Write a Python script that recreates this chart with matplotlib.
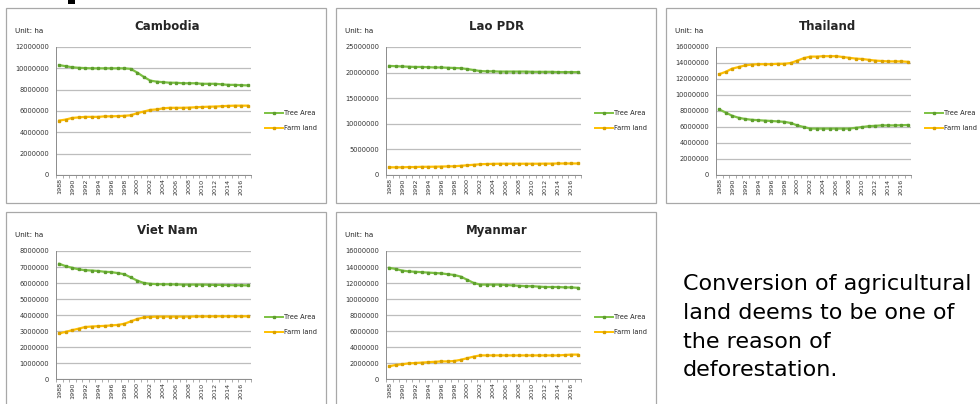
import matplotlib
matplotlib.use("Agg")
import matplotlib.pyplot as plt
from matplotlib.lines import Line2D
from matplotlib.patches import Rectangle
import numpy as np

plt.rcParams['font.family'] = ['DejaVu Sans']

years = list(range(1988, 2018))
year_labels = [str(y) if (y - 1988) % 2 == 0 else "" for y in years]
series_names = ["Tree Area", "Farm land"]

# hectares, 1988-2017
cambodia_tree = [10.30e6, 10.20e6, 10.10e6, 10.05e6, 10.02e6, 10.00e6, 10.00e6, 10.00e6, 10.00e6, 10.00e6,
                 10.00e6, 9.95e6, 9.60e6, 9.20e6, 8.85e6, 8.75e6, 8.70e6, 8.65e6, 8.65e6, 8.60e6,
                 8.60e6, 8.60e6, 8.55e6, 8.55e6, 8.55e6, 8.50e6, 8.45e6, 8.45e6, 8.42e6, 8.40e6]
cambodia_farm = [5.10e6, 5.20e6, 5.35e6, 5.40e6, 5.45e6, 5.45e6, 5.45e6, 5.50e6, 5.50e6, 5.52e6,
                 5.55e6, 5.60e6, 5.80e6, 5.95e6, 6.10e6, 6.15e6, 6.25e6, 6.30e6, 6.30e6, 6.30e6,
                 6.32e6, 6.35e6, 6.38e6, 6.40e6, 6.42e6, 6.45e6, 6.48e6, 6.50e6, 6.50e6, 6.50e6]

lao_tree = [21.30e6, 21.25e6, 21.20e6, 21.15e6, 21.10e6, 21.10e6, 21.05e6, 21.00e6, 21.00e6, 20.95e6,
            20.90e6, 20.85e6, 20.70e6, 20.50e6, 20.30e6, 20.25e6, 20.25e6, 20.20e6, 20.20e6, 20.20e6,
            20.20e6, 20.20e6, 20.15e6, 20.15e6, 20.15e6, 20.15e6, 20.10e6, 20.10e6, 20.10e6, 20.10e6]
lao_farm = [1.50e6, 1.50e6, 1.50e6, 1.55e6, 1.55e6, 1.60e6, 1.60e6, 1.62e6, 1.65e6, 1.68e6,
            1.70e6, 1.80e6, 1.90e6, 2.00e6, 2.10e6, 2.15e6, 2.18e6, 2.20e6, 2.20e6, 2.20e6,
            2.20e6, 2.20e6, 2.20e6, 2.20e6, 2.22e6, 2.22e6, 2.25e6, 2.25e6, 2.25e6, 2.25e6]

thailand_tree = [8.20e6, 7.80e6, 7.40e6, 7.15e6, 7.00e6, 6.90e6, 6.85e6, 6.80e6, 6.75e6, 6.70e6,
                 6.65e6, 6.50e6, 6.20e6, 6.00e6, 5.80e6, 5.80e6, 5.80e6, 5.80e6, 5.80e6, 5.80e6,
                 5.80e6, 5.90e6, 6.00e6, 6.10e6, 6.15e6, 6.20e6, 6.20e6, 6.20e6, 6.22e6, 6.25e6]
thailand_farm = [12.60e6, 12.90e6, 13.30e6, 13.50e6, 13.70e6, 13.80e6, 13.85e6, 13.85e6, 13.85e6, 13.90e6,
                 13.90e6, 14.00e6, 14.30e6, 14.60e6, 14.80e6, 14.80e6, 14.85e6, 14.85e6, 14.85e6, 14.75e6,
                 14.65e6, 14.55e6, 14.50e6, 14.40e6, 14.30e6, 14.25e6, 14.20e6, 14.20e6, 14.20e6, 14.15e6]

vietnam_tree = [7.20e6, 7.05e6, 6.95e6, 6.85e6, 6.80e6, 6.78e6, 6.75e6, 6.70e6, 6.68e6, 6.62e6,
                6.55e6, 6.35e6, 6.15e6, 6.00e6, 5.95e6, 5.93e6, 5.92e6, 5.92e6, 5.91e6, 5.90e6,
                5.90e6, 5.90e6, 5.90e6, 5.89e6, 5.88e6, 5.88e6, 5.87e6, 5.86e6, 5.86e6, 5.85e6]
vietnam_farm = [2.85e6, 2.95e6, 3.05e6, 3.15e6, 3.25e6, 3.28e6, 3.30e6, 3.32e6, 3.35e6, 3.38e6,
                3.45e6, 3.60e6, 3.75e6, 3.85e6, 3.88e6, 3.90e6, 3.90e6, 3.90e6, 3.90e6, 3.90e6,
                3.90e6, 3.91e6, 3.91e6, 3.91e6, 3.92e6, 3.92e6, 3.92e6, 3.92e6, 3.92e6, 3.92e6]

myanmar_tree = [13.90e6, 13.75e6, 13.55e6, 13.45e6, 13.40e6, 13.35e6, 13.30e6, 13.25e6, 13.20e6, 13.10e6,
                13.00e6, 12.80e6, 12.40e6, 12.00e6, 11.80e6, 11.80e6, 11.80e6, 11.80e6, 11.75e6, 11.70e6,
                11.65e6, 11.60e6, 11.60e6, 11.55e6, 11.50e6, 11.50e6, 11.50e6, 11.45e6, 11.45e6, 11.40e6]
myanmar_farm = [1.60e6, 1.75e6, 1.85e6, 1.95e6, 2.00e6, 2.05e6, 2.10e6, 2.15e6, 2.20e6, 2.20e6,
                2.25e6, 2.40e6, 2.60e6, 2.80e6, 2.95e6, 2.95e6, 2.95e6, 2.95e6, 2.95e6, 2.95e6,
                2.95e6, 2.95e6, 2.95e6, 2.95e6, 2.95e6, 2.95e6, 2.95e6, 3.00e6, 3.05e6, 3.05e6]

countries = ["Cambodia", "Lao PDR", "Thailand", "Viet Nam", "Myanmar"]
y_max = [12000000, 25000000, 16000000, 8000000, 16000000]
y_step = [2000000, 5000000, 2000000, 1000000, 2000000]
tree_series = [cambodia_tree, lao_tree, thailand_tree, vietnam_tree, myanmar_tree]
farm_series = [cambodia_farm, lao_farm, thailand_farm, vietnam_farm, myanmar_farm]

note_text = "Conversion of agricultural\nland deems to be one of\nthe reason of\ndeforestation."

W, H = 980, 404
fig = plt.figure(figsize=(W / 100, H / 100), dpi=100)
fig.patch.set_facecolor("white")

GREEN = "#7cc142"
GREEN_DK = "#5e9e2e"
GOLD = "#ffc000"
GOLD_DK = "#d9a000"
GRID = "#bdbdbd"
AXIS = "#8c8c8c"
TXT = "#333333"


def fbox(l, t, r, b):
    return [l / W, 1 - b / H, (r - l) / W, (b - t) / H]


def fpt(x, y):
    return x / W, 1 - y / H


# panel origins (left, top) in pixels
origins = [(0, 0), (330, 0), (660, 0), (0, 204), (330, 204)]

for i, name in enumerate(countries):
    ox, oy = origins[i]

    # chart frame
    right_edge = ox + 326 if i != 2 else ox + 340
    fig.add_artist(Rectangle(fpt(ox + 6, oy + 203), (right_edge - ox - 6) / W, 195 / H,
                             transform=fig.transFigure, facecolor="white",
                             edgecolor="#a8a8a8", linewidth=0.9, zorder=0))

    ax = fig.add_axes(fbox(ox + 56, oy + 47, ox + 251, oy + 175))
    x = np.arange(len(years))
    ax.plot(x, tree_series[i], color=GREEN, lw=1.6, marker="s", ms=1.6,
            mfc=GREEN_DK, mec=GREEN_DK, zorder=3)
    ax.plot(x, farm_series[i], color=GOLD, lw=1.6, marker="s", ms=1.6,
            mfc=GOLD_DK, mec=GOLD_DK, zorder=3)

    ax.set_xlim(-0.5, len(years) - 0.5)
    ax.set_ylim(0, y_max[i])
    yt = np.arange(0, y_max[i] + 1, y_step[i])
    ax.set_yticks(yt)
    ax.set_yticklabels([str(int(v)) for v in yt], fontsize=4.8, color=TXT)
    ax.tick_params(axis="y", length=0, pad=5)
    ax.set_xticks(x)
    ax.set_xticklabels(year_labels, rotation=90, fontsize=4.6, color=TXT)
    ax.tick_params(axis="x", length=0, pad=2.5)
    ax.set_xticks(np.arange(-0.5, len(years), 1), minor=True)
    ax.tick_params(axis="x", which="minor", length=2, width=0.5, color=AXIS)
    ax.grid(axis="y", color=GRID, lw=0.9)
    ax.set_axisbelow(True)
    for s in ("top", "right"):
        ax.spines[s].set_visible(False)
    ax.spines["left"].set_color(AXIS)
    ax.spines["bottom"].set_color(AXIS)
    ax.spines["left"].set_linewidth(0.7)
    ax.spines["bottom"].set_linewidth(0.7)

    # title and unit
    fig.text(*fpt(ox + 167, oy + 27), name, ha="center", va="center",
             fontsize=8.5, fontweight="bold", color="#262626")
    fig.text(*fpt(ox + 15, oy + 31), "Unit: ha", ha="left", va="center",
             fontsize=5.2, color="#262626")

    # legend
    for k, (lbl, c, cd) in enumerate([(series_names[0], GREEN, GREEN_DK),
                                      (series_names[1], GOLD, GOLD_DK)]):
        ly = oy + 113 + 15 * k
        x0, y0 = fpt(ox + 265, ly)
        x1, _ = fpt(ox + 283, ly)
        fig.add_artist(Line2D([x0, x1], [y0, y0], transform=fig.transFigure,
                              color=c, lw=1.4))
        fig.add_artist(Line2D([(x0 + x1) / 2], [y0], transform=fig.transFigure,
                              color=cd, marker="s", ms=1.6, lw=0))
        fig.text(*fpt(ox + 284, ly), lbl, ha="left", va="center",
                 fontsize=4.8, color="#262626")

# dark stroke of the slide heading peeking in at the top edge
fig.add_artist(Rectangle(fpt(68, 4), 7 / W, 4 / H, transform=fig.transFigure,
                         facecolor="black", edgecolor="none"))

fig.text(*fpt(683, 274), note_text, ha="left", va="top", fontsize=16,
         color="black", linespacing=1.55)

fig.savefig("out.png", dpi=100)
